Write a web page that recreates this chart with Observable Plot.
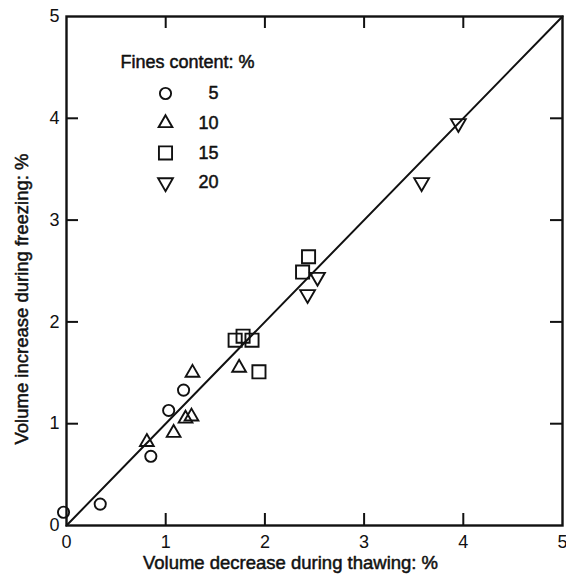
<!DOCTYPE html>
<html>
<head>
<meta charset="utf-8">
<script src="https://cdn.jsdelivr.net/npm/d3@7"></script>
<script src="https://cdn.jsdelivr.net/npm/@observablehq/plot@0.6"></script>
<style>
  body { margin: 0; background: #fff; }
  #chart svg { display: block; }
</style>
</head>
<body>
<div id="chart"></div>
<script>
// Volume change measurements, [thawing decrease %, freezing increase %]
const fines5 = [[-0.03, 0.13], [0.34, 0.21], [0.85, 0.68], [1.03, 1.13], [1.18, 1.33]];
const fines10 = [[0.81, 0.82], [1.08, 0.91], [1.20, 1.05], [1.26, 1.07], [1.27, 1.50], [1.74, 1.55]];
const fines15 = [[1.70, 1.82], [1.78, 1.86], [1.87, 1.82], [1.94, 1.51], [2.38, 2.49], [2.44, 2.64]];
const fines20 = [[2.43, 2.27], [2.53, 2.44], [3.58, 3.37], [3.95, 3.95]];

// Equality line (freezing increase = thawing decrease)
const equalityLine = [[0, 0], [5, 5]];

const tickLabels = [0, 1, 2, 3, 4, 5];
const innerTicks = [1, 2, 3, 4];

const legendTitle = "Fines content: %";
const legendLabels = ["5", "10", "15", "20"];

const xLabel = "Volume decrease during thawing: %";
const yLabel = "Volume increase during freezing: %";

// Downward-pointing triangle (mirror of d3.symbolTriangle)
const triangleDown = {
  draw(context, size) {
    const sqrt3 = Math.sqrt(3);
    const y = -Math.sqrt(size / (sqrt3 * 3));
    context.moveTo(0, -y * 2);
    context.lineTo(-sqrt3 * y, y);
    context.lineTo(sqrt3 * y, y);
    context.closePath();
  }
};

const W = 566, H = 577;
const mL = 66, mR = 4, mT = 16, mB = 52;
const plotW = W - mL - mR, plotH = H - mT - mB;
const tickLen = 12;
const ink = "#111";
const textStyle = {fill: ink, stroke: ink, strokeWidth: 0.5, fontSize: 18};

const series = [
  {data: fines5, symbol: "circle", r: 5.6},
  {data: fines10, symbol: "triangle", r: 5.1},
  {data: fines15, symbol: "square", r: 7.4},
  {data: fines20, symbol: triangleDown, r: 5.5}
];

const pointMarks = series.map(s =>
  Plot.dot(s.data, {
    x: d => d[0], y: d => d[1],
    symbol: s.symbol, r: s.r,
    stroke: ink, strokeWidth: 1.9, fill: "none"
  })
);

// Legend rows inside the frame, top-left
const legendMarks = [
  Plot.text([legendTitle], {
    frameAnchor: "top-left", dx: 121, dy: 46,
    text: d => d, textAnchor: "middle", lineAnchor: "middle", ...textStyle
  })
];
series.forEach((s, i) => {
  legendMarks.push(
    Plot.dot([legendLabels[i]], {
      frameAnchor: "top-left", dx: 99, dy: 77 + i * 29.7,
      symbol: s.symbol, r: s.r, stroke: ink, strokeWidth: 1.9, fill: "none"
    }),
    Plot.text([legendLabels[i]], {
      frameAnchor: "top-left", dx: 152, dy: 77 + i * 29.7,
      text: d => d, textAnchor: "end", lineAnchor: "middle", ...textStyle
    })
  );
});

const chart = Plot.plot({
  width: W,
  height: H,
  marginLeft: mL,
  marginRight: mR,
  marginTop: mT,
  marginBottom: mB,
  x: {domain: [0, 5]},
  y: {domain: [0, 5]},
  style: {fontFamily: "'Liberation Sans', Arial, sans-serif", fontSize: "18px", color: ink, background: "#fff"},
  marks: [
    Plot.axisX(tickLabels, {tickSize: 0, tickPadding: 10, label: null, tickFormat: d => String(d), ...textStyle}),
    Plot.axisY(tickLabels, {tickSize: 0, tickPadding: 7, label: null, tickFormat: d => String(d), ...textStyle}),
    // inward tick marks on all four sides
    Plot.tickY(innerTicks, {y: d => d, insetRight: plotW - tickLen, stroke: ink, strokeWidth: 2}),
    Plot.tickY(innerTicks, {y: d => d, insetLeft: plotW - tickLen, stroke: ink, strokeWidth: 2}),
    Plot.tickX(innerTicks, {x: d => d, insetTop: plotH - tickLen, stroke: ink, strokeWidth: 2}),
    Plot.tickX(innerTicks, {x: d => d, insetBottom: plotH - tickLen, stroke: ink, strokeWidth: 2}),
    Plot.line(equalityLine, {x: d => d[0], y: d => d[1], stroke: ink, strokeWidth: 2}),
    ...pointMarks,
    Plot.frame({stroke: ink, strokeWidth: 2.4}),
    ...legendMarks,
    Plot.text([xLabel], {frameAnchor: "bottom", dx: -24, dy: 38, text: d => d, textAnchor: "middle", lineAnchor: "middle", ...textStyle, fontSize: 18.5}),
    Plot.text([yLabel], {frameAnchor: "left", dx: -44, dy: 28, rotate: -90, text: d => d, textAnchor: "middle", lineAnchor: "middle", ...textStyle, fontSize: 18.5})
  ]
});

document.getElementById("chart").appendChild(chart);
</script>
</body>
</html>
